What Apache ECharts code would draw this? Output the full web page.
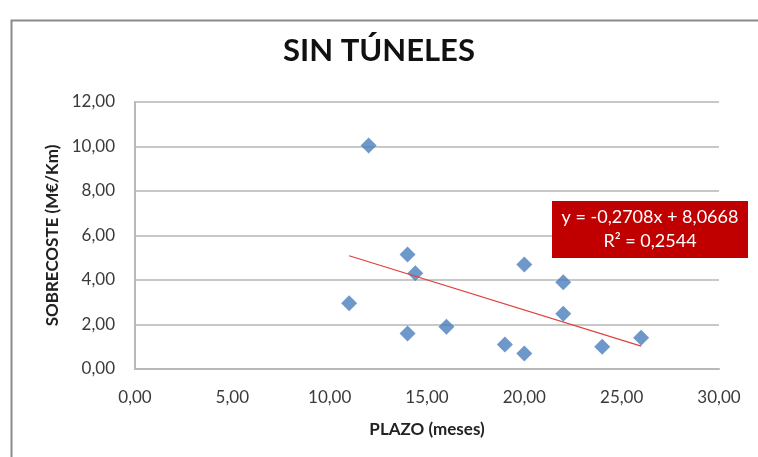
<!DOCTYPE html>
<html><head><meta charset="utf-8">
<script src="https://cdn.jsdelivr.net/npm/echarts@6/dist/echarts.min.js"></script>
<style>html,body{margin:0;padding:0;background:#fff}#c{width:758px;height:457px}</style>
</head><body><div id="c"></div>
<script>
var plazo = [12, 11, 14, 14.4, 14, 16, 19, 20, 20, 22, 22, 24, 26];
var sobrecoste = [10.05, 2.95, 5.15, 4.3, 1.6, 1.9, 1.1, 0.7, 4.7, 3.9, 2.48, 1.0, 1.4];
var trendSlope = -0.2708;
var trendIntercept = 8.0668;
var trendRange = [11, 26];
var eqText = ['y = -0,2708x + 8,0668', 'R² = 0,2544'];
var titleText = 'SIN TÚNELES';
var xName = 'PLAZO (meses)';
var yName = 'SOBRECOSTE (M€/Km)';

var pts = plazo.map(function(x, i){ return [x, sobrecoste[i]]; });
var trend = trendRange.map(function(x){ return [x, trendSlope * x + trendIntercept]; });
function fmt(v){ return v.toFixed(2).replace('.', ','); }
var font = 'Lato, "Open Sans", sans-serif';

var chart = echarts.init(document.getElementById('c'));
chart.setOption({
  animation: false,
  backgroundColor: '#fff',
  title: { text: titleText, left: 'center', top: 30,
    textStyle: { fontFamily: font, fontSize: 31, fontWeight: 'bold', color: '#111' } },
  grid: { left: 135, right: 39, top: 102, bottom: 88 },
  xAxis: { type: 'value', min: 0, max: 30, interval: 5,
    name: xName, nameLocation: 'middle', nameGap: 52,
    nameTextStyle: { fontFamily: font, fontSize: 17, fontWeight: 'bold', color: '#222' },
    axisLine: { show: true, onZero: false, lineStyle: { color: '#b8b8b8', width: 2 } },
    axisTick: { show: false },
    axisLabel: { formatter: fmt, fontFamily: font, fontSize: 17, color: '#3a3a3a', margin: 20 },
    splitLine: { show: false } },
  yAxis: { type: 'value', min: 0, max: 12, interval: 2,
    name: yName, nameLocation: 'middle', nameGap: 72,
    nameTextStyle: { fontFamily: font, fontSize: 17, fontWeight: 'bold', color: '#222' },
    axisLine: { show: true, lineStyle: { color: '#b8b8b8', width: 2 } },
    axisTick: { show: false },
    axisLabel: { formatter: fmt, fontFamily: font, fontSize: 17, color: '#3a3a3a', margin: 20 },
    splitLine: { show: true, lineStyle: { color: '#c8c8c8', width: 2 } } },
  series: [
    { type: 'line', data: trend, symbol: 'none', z: 3,
      lineStyle: { color: '#e0403c', width: 1.2 } },
    { type: 'scatter', data: pts, symbol: 'diamond', symbolSize: 16, z: 2,
      itemStyle: { color: '#4a7ebb' } }
  ],
  graphic: [
    { type: 'rect', left: 9, top: 18, z: 0, silent: true,
      shape: { width: 800, height: 500 },
      style: { fill: 'none', stroke: '#8a8a8a', lineWidth: 2 } },
    { type: 'rect', x: 552, y: 201, z: 10, silent: true,
      shape: { width: 196, height: 57 },
      style: { fill: '#c00000' } },
    { type: 'text', x: 650, y: 205, z: 11, silent: true,
      style: { text: eqText.join('\n'), fill: '#fff', font: '18px ' + font,
        textAlign: 'center', lineHeight: 24 } }
  ]
});
</script></body></html>
